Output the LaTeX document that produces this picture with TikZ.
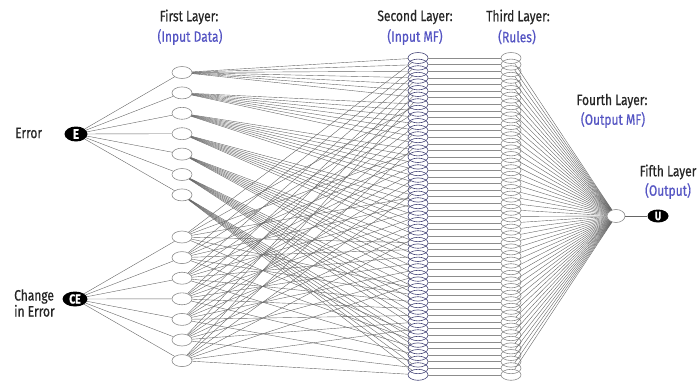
\documentclass[tikz,border=0pt]{standalone}
\usepackage{fontspec}
\setmainfont[FakeStretch=0.8,FakeBold=0.6]{Fira Sans}
\usetikzlibrary{shapes.geometric}
\definecolor{lblue}{RGB}{85,85,195}
\definecolor{mfcol}{RGB}{70,70,120}
\begin{document}
\begin{tikzpicture}[x=1pt,y=-1pt,
  conn/.style={draw=black!60, line width=0.4pt},
  hconn/.style={draw=black!45, line width=0.5pt},
  inode/.style={ellipse, draw=black!45, minimum width=20pt, minimum height=12pt, inner sep=0pt, line width=0.6pt},
  mfnode/.style={ellipse, draw=mfcol, minimum width=20pt, minimum height=11pt, inner sep=0pt, line width=0.6pt},
  rnode/.style={ellipse, draw=black!45, minimum width=20pt, minimum height=11pt, inner sep=0pt, line width=0.6pt},
  bnode/.style={ellipse, fill=black, text=white, font=\fontsize{14}{14}\selectfont\bfseries, inner sep=0pt, minimum width=23pt, minimum height=15pt},
  ttl/.style={font=\fontsize{15}{16}\selectfont, text=black!85, inner sep=0pt},
  sub/.style={ttl, text=lblue}]
\useasboundingbox (0,0) rectangle (700,381);
% input nodes
\node[bnode] (E) at (76,134) {E};
\node[bnode, minimum width=25pt, font=\fontsize{13}{13}\selectfont\bfseries] (CE) at (75,299) {CE};
% first layer
\foreach \i in {1,...,7} {
  \node[inode] (a\i) at (182,{72.5+20.4*(\i-1)}) {};
  \node[inode] (b\i) at (182,{237+20.6*(\i-1)}) {};
}
% second and third layer stacks
\foreach \k in {1,...,49} {
  \node[mfnode] (m\k) at (418,{58+6.6*(\k-1)}) {};
  \node[rnode] (r\k) at (511,{58+6.6*(\k-1)}) {};
}
% fourth and fifth layer
\node[inode, minimum width=18pt, minimum height=13pt] (o) at (616,216) {};
\node[bnode, minimum width=21pt, minimum height=13pt, font=\fontsize{12}{12}\selectfont\bfseries] (U) at (658,216) {U};
% connections
\foreach \i in {1,...,7} {
  \draw[conn] (E) -- (a\i);
  \draw[conn] (CE) -- (b\i);
  \foreach \j in {1,...,7} {
    \pgfmathtruncatemacro{\ka}{7*(\i-1)+\j}
    \pgfmathtruncatemacro{\kb}{\i+7*(\j-1)}
    \draw[conn] (a\i) -- (m\ka);
    \draw[conn] (b\i) -- (m\kb);
  }
}
\foreach \k in {1,...,49} {
  \draw[hconn] (m\k) -- (r\k);
  \draw[conn] (r\k) -- (o);
}
\draw[conn] (o) -- (U);
% labels
\node[ttl] (t1) at (189,17) {First Layer:};
\node[sub] (s1) at (190,37) {(Input Data)};
\node[ttl] (t2) at (415,17) {Second Layer:};
\node[sub] (s2) at (415,37) {(Input MF)};
\node[ttl] (t3) at (518,17) {Third Layer:};
\node[sub] (s3) at (517,37) {(Rules)};
\node[ttl] (t4) at (612,101) {Fourth Layer:};
\node[sub] (s4) at (613,120) {(Output MF)};
\node[ttl] (t5) at (668,172) {Fifth Layer};
\node[sub] (s5) at (668,191) {(Output)};
\node[ttl, anchor=west] (le) at (15,133) {Error};
\node[ttl, anchor=west, align=left] (lce) at (14,303) {Change\\in Error};
\end{tikzpicture}
\end{document}
